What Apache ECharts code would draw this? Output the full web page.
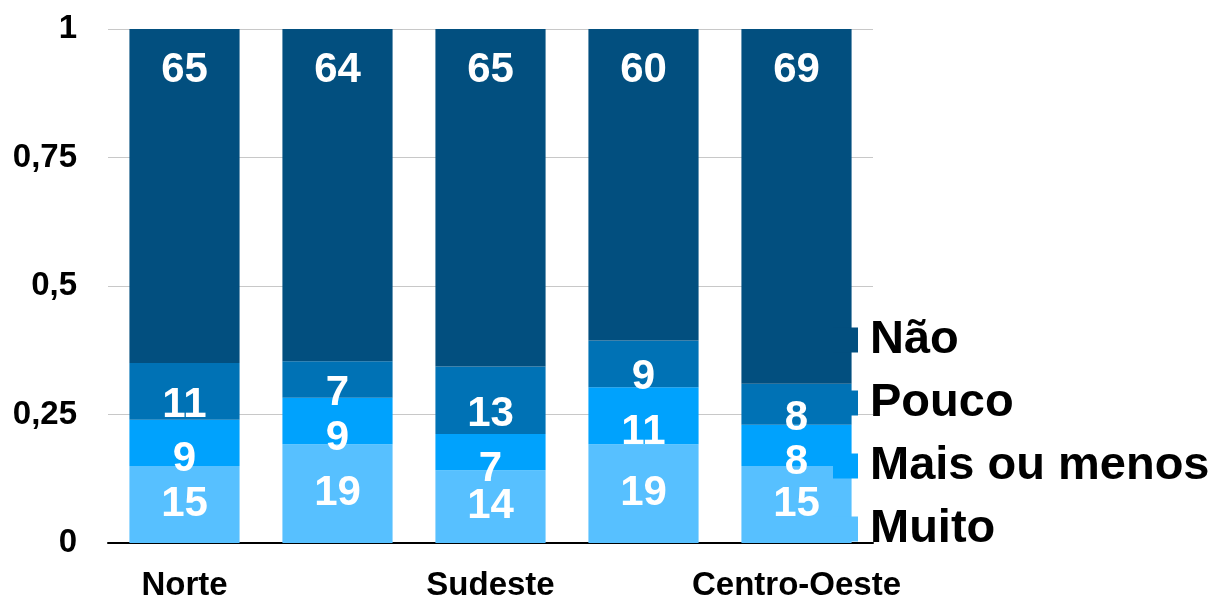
<!DOCTYPE html>
<html>
<head>
<meta charset="utf-8">
<script src="https://cdn.jsdelivr.net/npm/echarts@6/dist/echarts.min.js"></script>
<style>
  html, body { margin: 0; padding: 0; background: #fff; }
  #chart { width: 1219px; height: 598px; }
</style>
</head>
<body>
<div id="chart"></div>
<script>
// 类别（只显示隔一个的标签）
const regioes = ['Norte', 'Nordeste', 'Sudeste', 'Sul', 'Centro-Oeste'];
const muito = [15, 19, 14, 19, 15];
const maisOuMenos = [9, 9, 7, 11, 8];
const pouco = [11, 7, 13, 9, 8];
const nao = [65, 64, 65, 60, 69];
const yTicks = [0, 0.25, 0.5, 0.75, 1];

const cores = {
    muito: '#57c0ff',
    mais: '#00a2fd',
    pouco: '#0072b5',
    nao: '#024f7f'
};

// 100% 堆叠：每个类别按总和归一
const totais = regioes.map((_, i) => muito[i] + maisOuMenos[i] + pouco[i] + nao[i]);
function share(arr) {
    return arr.map((v, i) => ({ value: v / totais[i], raw: v }));
}

function makeSeries(name, arr, color, labelPos, offsetY) {
    return {
        name: name,
        type: 'bar',
        stack: 'total',
        barWidth: '72%',
        itemStyle: { color: color },
        label: {
            show: true,
            position: labelPos,
            offset: [0, offsetY],
            color: '#fff',
            fontFamily: 'Liberation Sans',
            fontWeight: 'bold',
            fontSize: 42,
            formatter: p => p.data.raw
        },
        data: share(arr)
    };
}

const chart = echarts.init(document.getElementById('chart'));
chart.setOption({
    animation: false,
    grid: { left: 108, right: 346, top: 29, bottom: 55, outerBoundsMode: 'none', containLabel: false },
    legend: {
        left: 833,
        top: 314,
        padding: 0,
        orient: 'vertical',
        icon: 'rect',
        itemWidth: 25,
        itemHeight: 25,
        itemGap: 11,
        data: ['Não', 'Pouco', 'Mais ou menos', 'Muito'],
        textStyle: {
            color: '#000',
            fontFamily: 'Liberation Sans',
            fontWeight: 'bold',
            fontSize: 47,
            lineHeight: 52,
            padding: [0, 0, 0, 7]
        }
    },
    xAxis: {
        type: 'category',
        data: regioes,
        axisLine: { lineStyle: { color: '#000', width: 2 } },
        axisTick: { show: false },
        axisLabel: {
            interval: 1,
            margin: 26,
            color: '#000',
            fontFamily: 'Liberation Sans',
            fontWeight: 'bold',
            fontSize: 33
        }
    },
    yAxis: {
        type: 'value',
        min: yTicks[0],
        max: yTicks[yTicks.length - 1],
        interval: 0.25,
        axisLine: { show: false },
        axisTick: { show: false },
        splitLine: { lineStyle: { color: '#c8c8c8', width: 1 } },
        axisLabel: {
            margin: 31,
            color: '#000',
            fontFamily: 'Liberation Sans',
            fontWeight: 'bold',
            fontSize: 33,
            formatter: v => String(v).replace('.', ',')
        }
    },
    series: [
        makeSeries('Muito', muito, cores.muito, 'inside', 0),
        makeSeries('Mais ou menos', maisOuMenos, cores.mais, 'inside', 17),
        makeSeries('Pouco', pouco, cores.pouco, 'inside', 14),
        makeSeries('Não', nao, cores.nao, 'insideTop', 15)
    ]
});
</script>
</body>
</html>
